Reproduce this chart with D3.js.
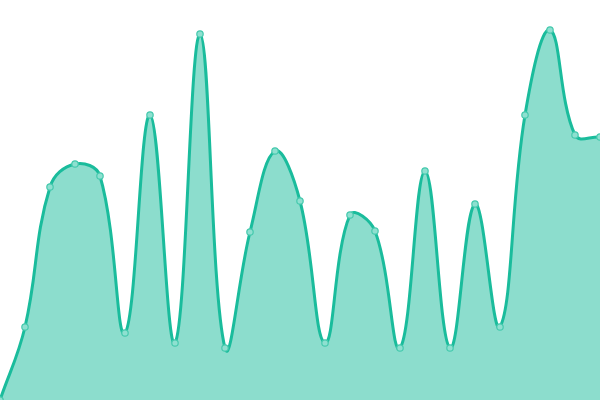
<!DOCTYPE html>
<html><head><meta charset="utf-8">
<script src="https://cdn.jsdelivr.net/npm/d3@7"></script>
<style>html,body{margin:0;padding:0;background:#fff;}svg{display:block;}</style>
</head><body>
<svg id="c" width="600" height="400"></svg>
<script>
const categories = d3.range(25);
const values = [0, 73, 213, 236, 224, 67, 285, 57, 366, 52, 168, 249, 199, 57, 185, 169, 52, 229, 52, 196, 73, 285, 370, 265, 263];
const W = 600, H = 400;
const svg = d3.select("#c");
const x = d3.scaleLinear().domain([0, categories.length - 1]).range([0, W]);
const y = d3.scaleLinear().domain([0, 400]).range([H, 0]);

// Tension spline (distance-weighted cardinal), with control points kept inside the plot.
function SplineCurve(context, tension) { this._context = context; this._t = tension; }
SplineCurve.prototype = {
  areaStart() { this._line = 0; },
  areaEnd() { this._line = NaN; },
  lineStart() { this._x = []; this._y = []; },
  point(px, py) { this._x.push(+px); this._y.push(+py); },
  lineEnd() {
    const X = this._x, Y = this._y, n = X.length, c = this._context, t = this._t;
    if (n) {
      this._line ? c.lineTo(X[0], Y[0]) : c.moveTo(X[0], Y[0]);
      const cpP = [], cpN = [];
      const clx = v => Math.max(0, Math.min(W, v)), cly = v => Math.max(0, Math.min(H, v));
      for (let i = 0; i < n; i++) {
        const p = i > 0 ? i - 1 : i, q = i < n - 1 ? i + 1 : i;
        const d01 = Math.hypot(X[i] - X[p], Y[i] - Y[p]);
        const d12 = Math.hypot(X[q] - X[i], Y[q] - Y[i]);
        let s01 = d01 / (d01 + d12), s12 = d12 / (d01 + d12);
        if (isNaN(s01)) s01 = 0; if (isNaN(s12)) s12 = 0;
        const fa = t * s01, fb = t * s12;
        cpP[i] = [clx(X[i] - fa * (X[q] - X[p])), cly(Y[i] - fa * (Y[q] - Y[p]))];
        cpN[i] = [clx(X[i] + fb * (X[q] - X[p])), cly(Y[i] + fb * (Y[q] - Y[p]))];
      }
      for (let i = 1; i < n; i++) {
        c.bezierCurveTo(cpN[i-1][0], cpN[i-1][1], cpP[i][0], cpP[i][1], X[i], Y[i]);
      }
    }
    if (this._line || (this._line !== 0 && n === 1)) c.closePath();
    this._line = 1 - this._line;
  }
};
const curve = ctx => new SplineCurve(ctx, 0.4);

const area = d3.area().x((d,i)=>x(categories[i])).y0(H).y1(d=>y(d)).curve(curve);
const line = d3.line().x((d,i)=>x(categories[i])).y(d=>y(d)).curve(curve);
svg.append("path").datum(values).attr("d", area).attr("fill", "#1abc9c").attr("fill-opacity", 0.5);
svg.append("path").datum(values).attr("d", line).attr("fill", "none").attr("stroke", "#1abc9c").attr("stroke-width", 3);
svg.selectAll("circle").data(values).join("circle")
  .attr("cx", (d,i)=>x(categories[i])).attr("cy", d=>y(d)).attr("r", 3.2)
  .attr("fill", "#8ee0d0").attr("stroke", "#45c9ad").attr("stroke-width", 1.2);
</script>
</body></html>
